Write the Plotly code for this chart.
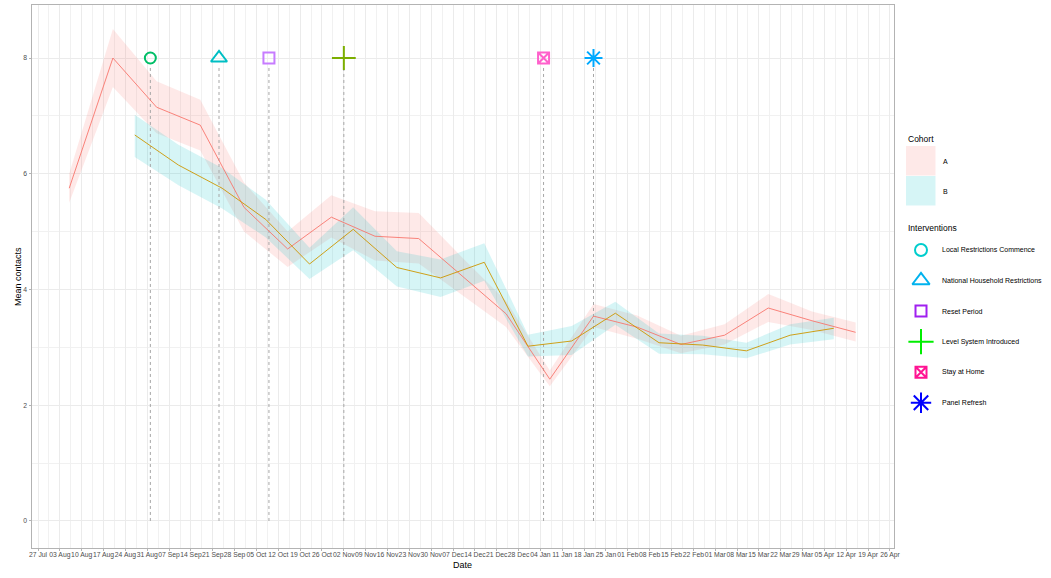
import plotly.graph_objects as go

# cohort A (every two weeks)
a_dates = ['2020-08-06', '2020-08-20', '2020-09-03', '2020-09-17', '2020-10-01',
           '2020-10-15', '2020-10-29', '2020-11-12', '2020-11-26', '2020-12-10',
           '2020-12-24', '2021-01-07', '2021-01-21', '2021-02-04', '2021-02-18',
           '2021-03-04', '2021-03-18', '2021-04-01', '2021-04-15']
a_mean = [5.75, 8.0, 7.15, 6.84, 5.42, 4.70, 5.25, 4.92, 4.88, 4.23,
          3.58, 2.45, 3.54, 3.35, 3.05, 3.21, 3.68, 3.46, 3.26]
a_low = [5.5, 7.5, 6.7, 6.4, 5.0, 4.39, 4.9, 4.5, 4.45, 3.9,
         3.35, 2.33, 3.35, 3.15, 2.9, 3.05, 3.44, 3.3, 3.1]
a_high = [6.0, 8.5, 7.6, 7.28, 5.85, 5.0, 5.63, 5.35, 5.32, 4.55,
          3.8, 2.6, 3.75, 3.55, 3.2, 3.4, 3.92, 3.62, 3.43]

# cohort B (alternate weeks)
b_dates = ['2020-08-27', '2020-09-10', '2020-09-24', '2020-10-08', '2020-10-22',
           '2020-11-05', '2020-11-19', '2020-12-03', '2020-12-17', '2020-12-31',
           '2021-01-14', '2021-01-28', '2021-02-11', '2021-02-25', '2021-03-11',
           '2021-03-25', '2021-04-08']
b_mean = [6.67, 6.15, 5.75, 5.21, 4.44, 5.04, 4.38, 4.20, 4.47, 3.02,
          3.11, 3.59, 3.08, 3.04, 2.94, 3.21, 3.33]
b_low = [6.29, 5.8, 5.4, 4.9, 4.18, 4.68, 4.05, 3.87, 4.15, 2.84,
         2.87, 3.39, 2.89, 2.88, 2.81, 3.05, 3.14]
b_high = [7.02, 6.5, 6.1, 5.55, 4.72, 5.42, 4.66, 4.52, 4.8, 3.22,
          3.37, 3.79, 3.24, 3.2, 3.08, 3.4, 3.51]

# interventions
int_names = ['Local Restrictions Commence', 'National Household Restrictions',
             'Reset Period', 'Level System Introduced', 'Stay at Home', 'Panel Refresh']
int_dates = ['2020-09-01', '2020-09-23', '2020-10-09', '2020-11-02', '2021-01-05', '2021-01-21']
int_y = [8, 8, 8, 8, 8, 8]
int_line_top = 7.86

W, H = 1051, 578

# plot marker styles / legend styles
plot_sym = ['circle-open', 'triangle-up-open', 'square-open', 'cross-thin-open',
            'square-x-open', 'asterisk-open']
plot_col = ['#00BE67', '#00BFC4', '#C77CFF', '#7CAE00', '#FF61CC', '#00A9FF']
plot_size = [11, 14, 11, 17, 11, 15]
leg_col = ['#00CDCD', '#00B2EE', '#A020F0', '#00EE00', '#FF1493', '#0000FF']
leg_size = [12, 15, 11, 18, 11, 17]


def px(x):
    return x / W


def py(y):
    return 1 - y / H


fig = go.Figure()

# ribbons
fig.add_trace(go.Scatter(x=a_dates + a_dates[::-1], y=a_high + a_low[::-1],
                         fill='toself', fillcolor='rgba(248,118,109,0.16)',
                         line=dict(width=0), mode='lines', hoverinfo='skip'))
fig.add_trace(go.Scatter(x=b_dates + b_dates[::-1], y=b_high + b_low[::-1],
                         fill='toself', fillcolor='rgba(0,191,196,0.16)',
                         line=dict(width=0), mode='lines', hoverinfo='skip'))

# dotted intervention lines
vx, vy = [], []
for d in int_dates:
    vx += [d, d, None]
    vy += [0, int_line_top, None]
fig.add_trace(go.Scatter(x=vx, y=vy, mode='lines',
                         line=dict(color='#A6A6A6', width=1, dash='dot'), hoverinfo='skip'))

# mean lines
fig.add_trace(go.Scatter(x=a_dates, y=a_mean, mode='lines', name='A',
                         line=dict(color='#F8766D', width=0.9)))
fig.add_trace(go.Scatter(x=b_dates, y=b_mean, mode='lines', name='B',
                         line=dict(color='#CD9600', width=0.9)))

# intervention markers
for i in range(len(int_names)):
    fig.add_trace(go.Scatter(x=[int_dates[i]], y=[int_y[i]], mode='markers', name=int_names[i],
                             marker=dict(symbol=plot_sym[i], size=plot_size[i],
                                         color=plot_col[i], line=dict(width=2, color=plot_col[i]))))

# legend glyphs on a pixel-space overlay axis
leg_y = [250, 280.5, 311, 341.7, 372.3, 402.7]
for i in range(len(int_names)):
    fig.add_trace(go.Scatter(x=[921], y=[leg_y[i]], mode='markers', xaxis='x2', yaxis='y2',
                             marker=dict(symbol=plot_sym[i], size=leg_size[i],
                                         color=leg_col[i], line=dict(width=2, color=leg_col[i])),
                             hoverinfo='skip'))

font = 'Liberation Sans, Arial, sans-serif'
grid = '#EBEBEB'


def label(text, x, y, size=7, xanchor='left', angle=0):
    return dict(text=text, x=px(x), y=py(y), xref='paper', yref='paper', showarrow=False,
                xanchor=xanchor, yanchor='middle', textangle=angle,
                font=dict(size=size, color='black'))


annotations = [
    label('Date', 462, 564.5, size=9, xanchor='center'),
    label('Mean contacts', 18, 277, size=9, xanchor='center', angle=-90),
    label('Cohort', 905.5, 138.5, size=8.5),
    label('A', 940.5, 161.5),
    label('B', 940.5, 191.5),
    label('Interventions', 905.5, 228, size=8.5),
]
for i in range(len(int_names)):
    annotations.append(label(int_names[i], 939.5, leg_y[i]))

shapes = [
    dict(type='rect', xref='paper', yref='paper', x0=px(906), x1=px(935.5), y0=py(175.5), y1=py(146),
         fillcolor='rgba(248,118,109,0.16)', line=dict(width=0)),
    dict(type='rect', xref='paper', yref='paper', x0=px(906), x1=px(935.5), y0=py(205.5), y1=py(176),
         fillcolor='rgba(0,191,196,0.16)', line=dict(width=0)),
]

fig.update_layout(
    width=W, height=H,
    margin=dict(l=0, r=0, t=0, b=0, autoexpand=False),
    paper_bgcolor='white', plot_bgcolor='rgba(0,0,0,0)',
    showlegend=False,
    font=dict(family=font, color='#4D4D4D'),
    annotations=annotations, shapes=shapes,
    xaxis=dict(domain=[px(31.5), px(894)], type='date', automargin=False,
               range=['2020-07-24 22:00', '2021-04-27 07:00'],
               tick0='2020-07-27', dtick=7 * 24 * 3600 * 1000, tickformat='%d %b',
               tickangle=0, tickfont=dict(size=6.8, color='#4D4D4D'),
               ticks='outside', ticklen=2, tickcolor='#B3B3B3', ticklabelstandoff=-2,
               showgrid=True, gridcolor=grid, gridwidth=1,
               minor=dict(dtick=3.5 * 24 * 3600 * 1000, tick0='2020-07-27',
                          showgrid=True, gridcolor='#F1F1F1', gridwidth=1),
               showline=True, mirror=True, linecolor='#B3B3B3', linewidth=1,
               zeroline=False, anchor='y'),
    yaxis=dict(domain=[py(548), py(5)], range=[-0.467, 8.916], automargin=False,
               tickvals=[0, 2, 4, 6, 8], tickfont=dict(size=6.8, color='#4D4D4D'),
               ticks='outside', ticklen=2, tickcolor='#B3B3B3',
               showgrid=True, gridcolor=grid, gridwidth=1,
               minor=dict(tickvals=[1, 3, 5, 7], showgrid=True, gridcolor='#F1F1F1', gridwidth=1),
               showline=True, mirror=True, linecolor='#B3B3B3', linewidth=1,
               zeroline=False, anchor='x'),
    xaxis2=dict(domain=[0, 1], range=[0, W], visible=False, anchor='y2', fixedrange=True,
                automargin=False),
    yaxis2=dict(domain=[0, 1], range=[H, 0], visible=False, anchor='x2', fixedrange=True,
                automargin=False),
)

# drop the default 8px page margin so the figure fills the window
fig.write_html('out.html', config={'displayModeBar': False},
               post_script="document.body.style.margin='0';")
